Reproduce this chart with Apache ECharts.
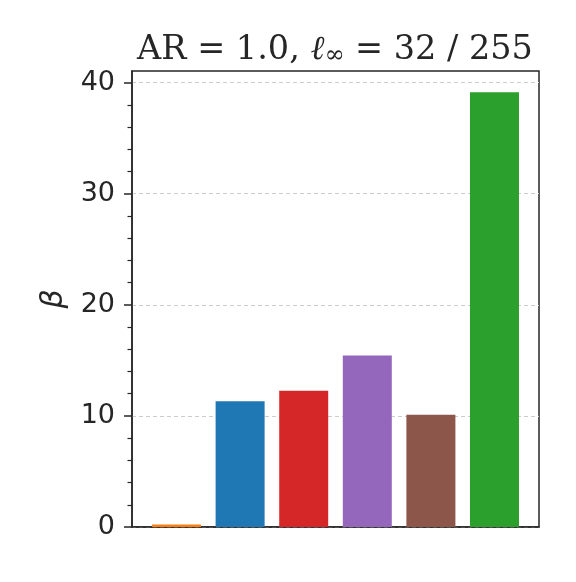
<!DOCTYPE html>
<html>
<head>
<meta charset="utf-8">
<script src="https://cdn.jsdelivr.net/npm/echarts@6/dist/echarts.min.js"></script>
<style>html,body{margin:0;padding:0;background:#fff}#c{width:576px;height:582px}</style>
</head>
<body>
<div id="c"></div>
<script>
var categories = [0, 1, 2, 3, 4, 5];
var values = [0.22, 11.31, 12.27, 15.43, 10.1, 39.14];
var colors = ['#ff7f0e', '#1f77b4', '#d62728', '#9467bd', '#8c564b', '#2ca02c'];
var majorTicks = [0, 10, 20, 30, 40];
var minorTicks = [2, 4, 6, 8, 12, 14, 16, 18, 22, 24, 26, 28, 32, 34, 36, 38];
var yMax = 41.05;

var chart = echarts.init(document.getElementById('c'), null, {renderer: 'canvas'});
var ink = '#262626';
chart.setOption({
  animation: false,
  backgroundColor: '#fff',
  title: {
    text: 'AR = 1.0, {it|ℓ}{sub|∞} = 32 / 255',
    left: 330, top: 28, textAlign: 'center',
    textStyle: {
      fontFamily: 'DejaVu Serif', fontSize: 33.5, fontWeight: 'normal', color: ink,
      rich: {
        it: {fontFamily: 'DejaVu Serif', fontStyle: 'italic', fontSize: 33.5, color: ink},
        sub: {fontFamily: 'DejaVu Serif', fontSize: 24, color: ink, padding: [11, 0, 0, 0]}
      }
    }
  },
  grid: {left: 132, right: 37, top: 71, bottom: 55, show: true, borderColor: ink, borderWidth: 1.5, backgroundColor: 'transparent'},
  xAxis: {
    type: 'value', min: -0.7, max: 5.7,
    axisLine: {show: true, onZero: false, lineStyle: {color: ink, width: 1.5}},
    axisTick: {show: false}, axisLabel: {show: false}, splitLine: {show: false}
  },
  yAxis: [{
    type: 'value', min: 0, max: yMax, interval: 10,
    name: 'β', nameLocation: 'middle', nameGap: 63, nameRotate: 90,
    nameTextStyle: {fontFamily: 'DejaVu Sans', fontStyle: 'italic', fontSize: 30, color: ink},
    axisLine: {show: true, onZero: false, lineStyle: {color: ink, width: 1.5}},
    axisTick: {show: true, length: 8, customValues: majorTicks, lineStyle: {color: ink, width: 1.5}},
    axisLabel: {show: true, customValues: majorTicks, margin: 17, fontFamily: 'DejaVu Sans', fontSize: 27, color: ink},
    splitLine: {show: true, lineStyle: {color: '#cccccc', width: 1, type: [4, 3]}}
  }, {
    type: 'value', min: 0, max: yMax, position: 'left', offset: 0,
    axisLine: {show: false, onZero: false},
    axisTick: {show: true, length: 4.5, customValues: minorTicks, lineStyle: {color: ink, width: 1.2}},
    axisLabel: {show: false}, splitLine: {show: false}
  }],
  series: [{
    type: 'bar', yAxisIndex: 0, barWidth: 49,
    data: categories.map(function (c, i) {
      return {value: [c, values[i]], itemStyle: {color: colors[i]}};
    })
  }]
});
</script>
</body>
</html>
